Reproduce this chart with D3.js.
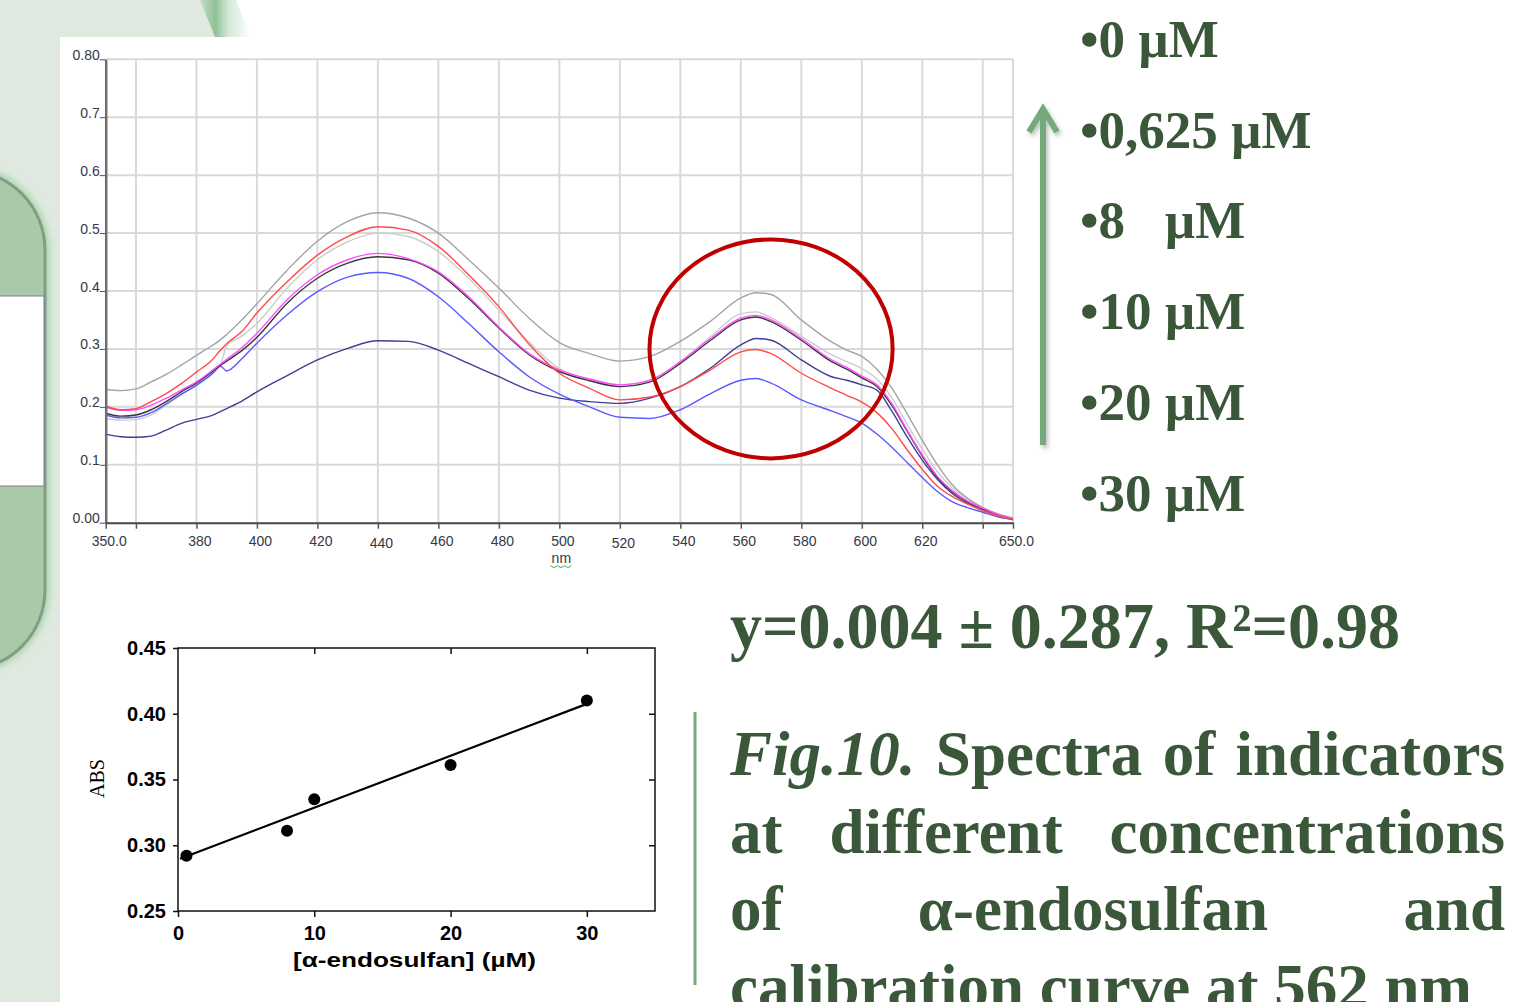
<!DOCTYPE html>
<html>
<head>
<meta charset="utf-8">
<script src="https://cdn.jsdelivr.net/npm/d3@7"></script>
<style>
  body { margin: 0; background: #ffffff; overflow: hidden; }
  svg { display: block; }
</style>
</head>
<body>
<svg id="c" width="1521" height="1002"></svg>
<script>
// ---------------- DATA ----------------
const wavelengths = [350,355,360,365,370,375,380,385,388,390,395,400,410,420,430,440,450,460,470,480,490,500,510,520,530,540,550,560,565,570,580,590,595,600,605,610,615,620,625,630,635,640,645,650];

const absGrayTop   = [.230,.228,.231,.243,.256,.272,.289,.305,.316,.325,.350,.378,.436,.486,.520,.535,.526,.500,.454,.405,.353,.311,.292,.279,.287,.313,.348,.388,.397,.394,.350,.312,.298,.287,.265,.232,.188,.142,.100,.065,.042,.026,.015,.008];
const absRed       = [.201,.195,.197,.209,.223,.240,.260,.280,.298,.309,.330,.362,.416,.462,.494,.511,.505,.477,.428,.373,.308,.258,.232,.212,.217,.235,.264,.295,.299,.292,.258,.232,.220,.208,.190,.162,.126,.092,.063,.045,.032,.021,.012,.006];
const absGrayLight = [.180,.177,.178,.186,.203,.221,.238,.257,.273,.305,.322,.344,.405,.454,.485,.500,.494,.468,.422,.367,.312,.266,.247,.238,.246,.278,.321,.361,.364,.354,.322,.290,.278,.266,.248,.215,.170,.127,.088,.060,.040,.026,.015,.007];
const absMagenta   = [.199,.194,.195,.203,.215,.229,.243,.262,.274,.282,.302,.327,.385,.428,.454,.465,.456,.433,.390,.338,.292,.264,.248,.238,.246,.278,.318,.353,.358,.350,.318,.281,.268,.253,.238,.205,.160,.117,.080,.055,.037,.025,.014,.007];
const absBlack     = [.189,.184,.186,.195,.209,.226,.241,.260,.272,.279,.297,.320,.379,.422,.448,.459,.454,.431,.387,.336,.290,.261,.245,.235,.243,.275,.315,.350,.355,.347,.315,.278,.265,.250,.235,.202,.158,.115,.078,.053,.036,.024,.013,.006];
const absBlue      = [.186,.181,.182,.190,.205,.222,.237,.256,.270,.262,.283,.310,.359,.399,.424,.432,.422,.390,.344,.295,.252,.222,.200,.182,.180,.195,.223,.246,.249,.241,.212,.193,.183,.172,.153,.130,.104,.078,.054,.036,.026,.018,.010,.005];
const absNavy      = [.153,.1485,.1475,.1495,.160,.1716,.1785,.185,.192,.197,.210,.226,.254,.281,.301,.314,.313,.298,.275,.252,.229,.215,.209,.206,.215,.235,.267,.307,.318,.315,.281,.252,.246,.238,.229,.192,.148,.108,.075,.050,.034,.023,.012,.006];

const specYTicks  = [0, 0.1, 0.2, 0.3, 0.4, 0.5, 0.6, 0.7, 0.8];
const specYLabels = ["0.00","0.1","0.2","0.3","0.4","0.5","0.6","0.7","0.80"];
const specXTicks  = [350,360,380,400,420,440,460,480,500,520,540,560,580,600,620,640,650];
const specXLabels = ["350.0","","380","400","420","440","460","480","500","520","540","560","580","600","620","","650.0"];
const specXTitle  = "nm";

// highlight ellipse (data units): centre wavelength, centre absorbance, half-widths
const highlight = { nm: 570, abs: 0.300, halfNm: 40.2, halfAbs: 0.189 };

const legendLabels = ["•0 µM", "•0,625 µM", "•8   µM", "•10 µM", "•20 µM", "•30 µM"];

const calConc = [0.625, 8, 10, 20, 30];
const calAbs  = [0.292, 0.311, 0.335, 0.361, 0.410];
const fitConc = [0.15, 30];
const fitAbs  = [0.2897, 0.4075];
const calYTicks = [0.25, 0.30, 0.35, 0.40, 0.45];
const calXTicks = [0, 10, 20, 30];
const calXTitle = "[α-endosulfan] (µM)";
const calYTitle = "ABS";

const equationText = "y=0.004 ± 0.287, R²=0.98";
const captionLines = [
  ["Fig.10.", "Spectra", "of", "indicators"],
  ["at", "different", "concentrations"],
  ["of", "α-endosulfan", "and"],
  ["calibration", "curve", "at", "562", "nm"]
];

// ---------------- DRAWING ----------------
const svg = d3.select("#c");
const defs = svg.append("defs");

const bandGrad = defs.append("linearGradient").attr("id", "band")
  .attr("x1", "0").attr("y1", "0").attr("x2", "1").attr("y2", "0");
bandGrad.append("stop").attr("offset", "0").attr("stop-color", "#c4dfc6");
bandGrad.append("stop").attr("offset", "0.3").attr("stop-color", "#8fc095");
bandGrad.append("stop").attr("offset", "0.55").attr("stop-color", "#d3e8d5");
bandGrad.append("stop").attr("offset", "1").attr("stop-color", "#ffffff");

const shadow = defs.append("filter").attr("id", "shadow")
  .attr("x", "-50%").attr("y", "-10%").attr("width", "200%").attr("height", "120%");
shadow.append("feDropShadow").attr("dx", 2).attr("dy", 3).attr("stdDeviation", 2)
  .attr("flood-color", "#000").attr("flood-opacity", 0.25);

const glow = defs.append("filter").attr("id", "glow")
  .attr("x", "-20%").attr("y", "-20%").attr("width", "140%").attr("height", "140%");
glow.append("feGaussianBlur").attr("stdDeviation", 3);

// background
svg.append("rect").attr("width", 1521).attr("height", 1002).attr("fill", "#ffffff");
svg.append("path").attr("d", "M0,0 H207 L222,37 H60 V1002 H0 Z").attr("fill", "#dfe9df");
svg.append("path").attr("d", "M200,0 H236 L251,37 H215 Z").attr("fill", "url(#band)");

// left rounded decoration
svg.append("rect").attr("x", -120).attr("y", 170).attr("width", 165).attr("height", 500).attr("rx", 80)
  .attr("fill", "none").attr("stroke", "#a9d6ad").attr("stroke-width", 9).attr("filter", "url(#glow)");
svg.append("rect").attr("x", -120).attr("y", 170).attr("width", 165).attr("height", 500).attr("rx", 80)
  .attr("fill", "#aac9a9").attr("stroke", "#849c85").attr("stroke-width", 3);
svg.append("rect").attr("x", -2).attr("y", 296).attr("width", 46).attr("height", 190)
  .attr("fill", "#ffffff").attr("stroke", "#7f7f95").attr("stroke-width", 1);

// ---------- spectrum chart ----------
const x = d3.scaleLinear().domain([350, 650]).range([105.7, 1013]);
const y = d3.scaleLinear().domain([0, 0.8]).range([522.7, 59.3]);
const spec = svg.append("g");

// grid
spec.append("g").selectAll("line").data(specXTicks.filter(d => d !== 350)).join("line")
  .attr("x1", d => x(d)).attr("x2", d => x(d)).attr("y1", y(0)).attr("y2", y(0.8))
  .attr("stroke", "#d9d9d9").attr("stroke-width", 2);
spec.append("g").selectAll("line").data(specYTicks.filter(d => d > 0)).join("line")
  .attr("x1", x(350)).attr("x2", x(650)).attr("y1", d => y(d)).attr("y2", d => y(d))
  .attr("stroke", "#d9d9d9").attr("stroke-width", 2);

// curves
const seriesList = [
  { v: absGrayLight, c: "#cdcdcd" },
  { v: absGrayTop,   c: "#a4a4a4" },
  { v: absNavy,      c: "#3e3e92" },
  { v: absBlue,      c: "#5a5aff" },
  { v: absBlack,     c: "#383838" },
  { v: absMagenta,   c: "#ff4cff" },
  { v: absRed,       c: "#ff4a4a" }
];
const line = d3.line().x(d => x(d[0])).y(d => y(d[1])).curve(d3.curveMonotoneX);
spec.append("g").selectAll("path").data(seriesList).join("path")
  .attr("d", s => line(wavelengths.map((w, i) => [w, s.v[i]])))
  .attr("fill", "none").attr("stroke", s => s.c).attr("stroke-width", 1.4);

// axes
const yAxis = d3.axisLeft(y).tickValues(specYTicks).tickSize(6).tickSizeOuter(0)
  .tickFormat((d, i) => specYLabels[i]);
const gy = spec.append("g").attr("transform", `translate(${x(350)},0)`).call(yAxis);
gy.select(".domain").attr("stroke", "#6e6e6e").attr("stroke-width", 2.5);
gy.selectAll(".tick line").attr("stroke", "#555");
gy.selectAll("text").attr("x", -6).attr("dy", "0em")
  .attr("font-family", "'Liberation Sans', Arial, sans-serif").attr("font-size", 14).attr("fill", "#343848");

const xAxis = d3.axisBottom(x).tickValues(specXTicks).tickSize(6).tickSizeOuter(0)
  .tickFormat((d, i) => specXLabels[i]);
const gx = spec.append("g").attr("transform", `translate(0,${y(0)})`).call(xAxis);
gx.select(".domain").attr("stroke", "#444").attr("stroke-width", 2);
gx.selectAll(".tick line").attr("stroke", "#555").attr("stroke-width", 1.5);
gx.selectAll("text").attr("y", d => (d === 440 || d === 520) ? 15 : 13).attr("dx", 3)
  .attr("font-family", "'Liberation Sans', Arial, sans-serif").attr("font-size", 14).attr("fill", "#343848");

spec.append("text").attr("x", x(500) + 2).attr("y", y(0) + 40).attr("text-anchor", "middle")
  .attr("font-family", "'Liberation Sans', Arial, sans-serif").attr("font-size", 14).attr("fill", "#343848")
  .text(specXTitle);
spec.append("path")
  .attr("d", d3.range(0, 7).map(i => `${i === 0 ? "M" : "L"}${x(500) - 9 + i * 3.5},${y(0) + 43 + (i % 2 ? 2 : 0)}`).join(""))
  .attr("fill", "none").attr("stroke", "#3fae4a").attr("stroke-width", 1);

// highlight ellipse
spec.append("ellipse")
  .attr("cx", x(highlight.nm)).attr("cy", y(highlight.abs))
  .attr("rx", x(highlight.nm + highlight.halfNm) - x(highlight.nm))
  .attr("ry", y(highlight.abs - highlight.halfAbs) - y(highlight.abs))
  .attr("fill", "none").attr("stroke", "#c00000").attr("stroke-width", 4);

// ---------- legend & arrow ----------
const green = "#3a573a";
svg.append("g").selectAll("text").data(legendLabels).join("text")
  .attr("x", 1080).attr("y", (d, i) => 57 + i * 90.7)
  .attr("font-family", "'Liberation Serif', 'Times New Roman', serif").attr("font-weight", "bold")
  .attr("font-size", 53).attr("fill", green).style("white-space", "pre")
  .text(d => d);

const arrow = svg.append("g").attr("filter", "url(#shadow)")
  .attr("stroke", "#74a97a").attr("stroke-width", 6).attr("fill", "none");
arrow.append("line").attr("x1", 1043).attr("x2", 1043).attr("y1", 445).attr("y2", 110);
arrow.append("path").attr("d", "M1029,132 L1043,109 L1057,132").attr("stroke-linejoin", "miter");

// ---------- calibration chart ----------
const cx = d3.scaleLinear().domain([0, 35]).range([178, 655]);
const cy = d3.scaleLinear().domain([0.25, 0.45]).range([911, 648]);
const cal = svg.append("g");
const sansBold = "'Liberation Sans', Arial, sans-serif";

cal.append("rect").attr("x", cx(0)).attr("y", cy(0.45)).attr("width", cx(35) - cx(0)).attr("height", cy(0.25) - cy(0.45))
  .attr("fill", "none").attr("stroke", "#111").attr("stroke-width", 1.5);

const cyl = cal.append("g").attr("transform", `translate(${cx(0)},0)`)
  .call(d3.axisLeft(cy).tickValues(calYTicks).tickSize(5).tickSizeOuter(0).tickFormat(d3.format(".2f")));
cyl.select(".domain").remove();
cyl.selectAll("text").attr("x", -12).attr("font-family", sansBold).attr("font-weight", "bold").attr("font-size", 20).attr("fill", "#000");
cyl.selectAll(".tick line").attr("stroke", "#111").attr("stroke-width", 1.5);

const cyr = cal.append("g").attr("transform", `translate(${cx(35)},0)`)
  .call(d3.axisLeft(cy).tickValues(calYTicks.slice(1, 4)).tickSize(0).tickFormat(""));
cyr.select(".domain").remove();
cyr.selectAll(".tick line").attr("x2", -6).attr("stroke", "#111").attr("stroke-width", 1.5);

const cxb = cal.append("g").attr("transform", `translate(0,${cy(0.25)})`)
  .call(d3.axisBottom(cx).tickValues(calXTicks).tickSize(6).tickSizeOuter(0).tickFormat(d3.format("d")));
cxb.select(".domain").remove();
cxb.selectAll("text").attr("y", 15).attr("font-family", sansBold).attr("font-weight", "bold").attr("font-size", 20).attr("fill", "#000");
cxb.selectAll(".tick line").attr("stroke", "#111").attr("stroke-width", 1.5);

const cxt = cal.append("g").attr("transform", `translate(0,${cy(0.45)})`)
  .call(d3.axisBottom(cx).tickValues(calXTicks.slice(1)).tickSize(6).tickSizeOuter(0).tickFormat(""));
cxt.select(".domain").remove();
cxt.selectAll(".tick line").attr("stroke", "#111").attr("stroke-width", 1.5);

cal.append("text").attr("x", (cx(0) + cx(35)) / 2 - 2).attr("y", 967).attr("text-anchor", "middle")
  .attr("font-family", sansBold).attr("font-weight", "bold").attr("font-size", 20)
  .attr("textLength", 243).attr("lengthAdjust", "spacingAndGlyphs").attr("fill", "#000")
  .text(calXTitle);
cal.append("text").attr("transform", `translate(104,${cy(0.35) - 1}) rotate(-90)`).attr("text-anchor", "middle")
  .attr("font-family", "'Liberation Serif', 'Times New Roman', serif").attr("font-size", 20).attr("fill", "#000")
  .text(calYTitle);

cal.append("line").attr("x1", cx(fitConc[0])).attr("y1", cy(fitAbs[0])).attr("x2", cx(fitConc[1])).attr("y2", cy(fitAbs[1]))
  .attr("stroke", "#000").attr("stroke-width", 2.2);
cal.append("g").selectAll("circle").data(calConc).join("circle")
  .attr("cx", d => cx(d)).attr("cy", (d, i) => cy(calAbs[i])).attr("r", 6).attr("fill", "#000");

// ---------- equation & caption ----------
const serif = "'Liberation Serif', 'Times New Roman', serif";
svg.append("text").attr("x", 730).attr("y", 648)
  .attr("font-family", serif).attr("font-weight", "bold").attr("font-size", 65).attr("fill", green)
  .attr("textLength", 670).attr("lengthAdjust", "spacingAndGlyphs")
  .text(equationText);

svg.append("line").attr("x1", 695).attr("x2", 695).attr("y1", 712).attr("y2", 985)
  .attr("stroke", "#7aa97f").attr("stroke-width", 3);

const capLeft = 730, capRight = 1505, capSize = 63, capBase = 775, capStep = 77.5;
captionLines.forEach((words, li) => {
  const g = svg.append("g");
  const nodes = words.map(w => g.append("text")
    .attr("y", capBase + li * capStep)
    .attr("font-family", serif).attr("font-weight", "bold").attr("font-size", capSize)
    .attr("font-style", w.startsWith("Fig.") ? "italic" : "normal")
    .attr("fill", green).text(w));
  const widths = nodes.map(n => n.node().getComputedTextLength());
  const total = d3.sum(widths);
  const justify = li < captionLines.length - 1;
  const gap = justify ? (capRight - capLeft - total) / (words.length - 1) : capSize * 0.25;
  let cur = capLeft;
  nodes.forEach((n, i) => { n.attr("x", cur); cur += widths[i] + gap; });
});
</script>
</body>
</html>
